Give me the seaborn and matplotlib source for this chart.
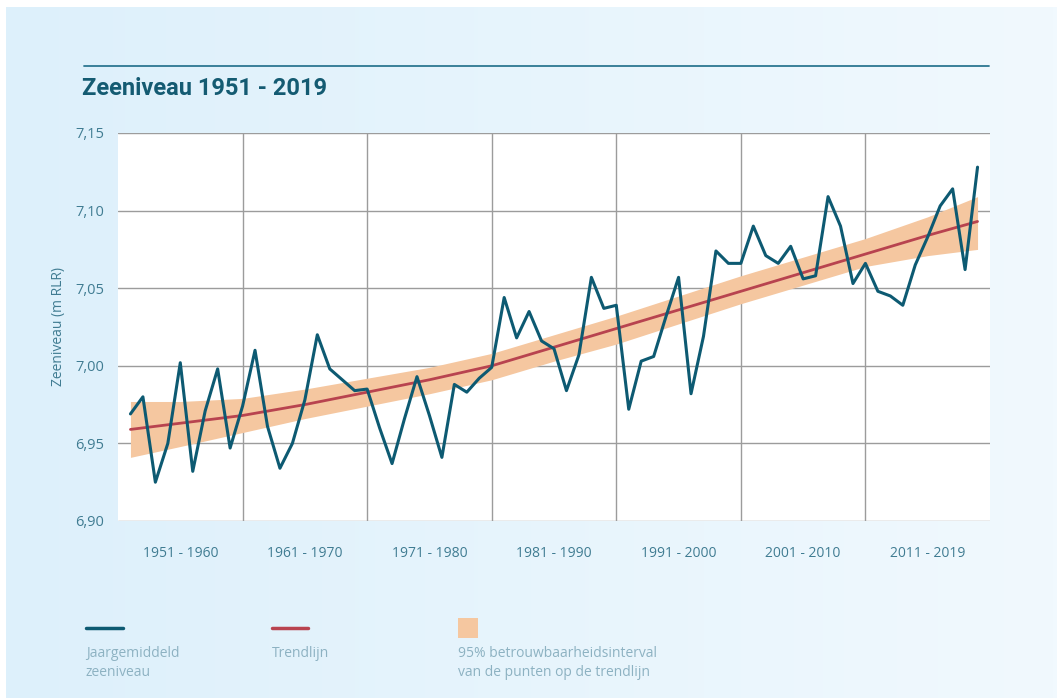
import matplotlib
matplotlib.use('Agg')
import matplotlib.pyplot as plt
import numpy as np
import pandas as pd
import seaborn as sns
from matplotlib.colors import LinearSegmentedColormap
from matplotlib.lines import Line2D
from matplotlib.patches import Rectangle

# Jaargemiddeld zeeniveau (m RLR)
jaren = list(range(1951, 2020))
zeeniveau = [
    6.969, 6.980, 6.925, 6.950, 7.002, 6.932, 6.971, 6.998, 6.947, 6.974,
    7.010, 6.961, 6.934, 6.950, 6.978, 7.020, 6.998, 6.991, 6.984, 6.985,
    6.960, 6.937, 6.966, 6.993, 6.968, 6.941, 6.988, 6.983, 6.992, 6.999,
    7.044, 7.018, 7.035, 7.016, 7.011, 6.984, 7.007, 7.057, 7.037, 7.039,
    6.972, 7.003, 7.006, 7.032, 7.057, 6.982, 7.019, 7.074, 7.066, 7.066,
    7.090, 7.071, 7.066, 7.077, 7.056, 7.058, 7.109, 7.090, 7.053, 7.066,
    7.048, 7.045, 7.039, 7.065, 7.083, 7.103, 7.114, 7.062, 7.128,
]

# Trendlijn en 95% betrouwbaarheidsinterval
trend_jaren = [1951, 1955, 1960, 1965, 1970, 1975, 1980, 1985, 1990, 1995,
               2000, 2005, 2010, 2015, 2019]
trend = [6.959, 6.963, 6.968, 6.975, 6.983, 6.991, 7.000, 7.012, 7.024,
         7.036, 7.048, 7.060, 7.072, 7.084, 7.093]
trend_boven = [6.977, 6.977, 6.979, 6.985, 6.992, 6.999, 7.008, 7.020,
               7.032, 7.045, 7.058, 7.070, 7.082, 7.096, 7.109]
trend_onder = [6.941, 6.948, 6.957, 6.966, 6.974, 6.982, 6.991, 7.003,
               7.014, 7.027, 7.040, 7.052, 7.064, 7.071, 7.075]

decennia = ['1951 - 1960', '1961 - 1970', '1971 - 1980', '1981 - 1990',
            '1991 - 2000', '2001 - 2010', '2011 - 2019']
grenzen = [1950, 1960, 1970, 1980, 1990, 2000, 2010, 2020]
y_ticks = [6.90, 6.95, 7.00, 7.05, 7.10, 7.15]

# kleuren
donker = '#0d5a72'
rood = '#b8434f'
band = '#f5c7a0'
titel_kleur = '#145b72'
tekst = '#407c92'
legenda_tekst = '#8db2c2'
grid = '#9c9c9c'

sns.set_style('white')
plt.rcParams['font.family'] = ['Open Sans', 'DejaVu Sans']

df = pd.DataFrame({'jaar': jaren, 'niveau': zeeniveau})
df_trend = pd.DataFrame({'jaar': trend_jaren, 'trend': trend,
                         'boven': trend_boven, 'onder': trend_onder})

fig = plt.figure(figsize=(10.57, 6.98), dpi=100, facecolor='white')

# achtergrond met licht verloop
bg = fig.add_axes([6 / 1057, 0, 1 - 6 / 1057, 1 - 7 / 698], zorder=0)
cmap = LinearSegmentedColormap.from_list('bg', ['#ddf0fb', '#f1f9fe'])
bg.imshow(np.linspace(0, 1, 256).reshape(1, -1), aspect='auto', cmap=cmap,
          extent=[0, 1, 0, 1])
bg.set_axis_off()

ax = fig.add_axes([118 / 1057, 1 - 521 / 698, 872 / 1057, 388 / 698], zorder=1)
ax.set_facecolor('white')

ax.fill_between(df_trend['jaar'], df_trend['onder'], df_trend['boven'],
                color=band, lw=0, zorder=2)
sns.lineplot(x='jaar', y='trend', data=df_trend, color=rood, lw=2.0,
             ax=ax, zorder=3)
sns.lineplot(x='jaar', y='niveau', data=df, color=donker, lw=2.2,
             ax=ax, zorder=4)

ax.set_xlim(grenzen[0], grenzen[-1])
ax.set_ylim(y_ticks[0], y_ticks[-1])

# y-as
ax.set_yticks(y_ticks)
ax.set_yticklabels([f'{v:.2f}'.replace('.', ',') for v in y_ticks],
                   fontsize=10.5, color=tekst)
ax.tick_params(axis='y', length=0, pad=10)
ax.set_ylabel('Zeeniveau (m RLR)', fontsize=10, color=tekst)
ax.yaxis.set_label_coords(-0.06, 0.5)

# x-as: decennia met scheidingslijnen
midden = [(a + b) / 2 for a, b in zip(grenzen[:-1], grenzen[1:])]
ax.set_xticks(grenzen[1:-1])
ax.set_xticklabels([])
ax.tick_params(axis='x', which='major', length=32, width=1, color='#a8a8a8',
               direction='out')
ax.set_xticks(midden, minor=True)
ax.set_xticklabels(decennia, minor=True, fontsize=10, color=tekst)
ax.tick_params(axis='x', which='minor', length=0, pad=18)
ax.set_xlabel('')

ax.grid(True, which='major', color=grid, lw=1)
ax.grid(False, which='minor')
for s in ax.spines.values():
    s.set_visible(False)

# titel met lijn erboven
fig.add_artist(Line2D([84 / 1057, 989 / 1057], [1 - 66 / 698, 1 - 66 / 698],
                      color='#2c7791', lw=1.3))
fig.text(82 / 1057, 1 - 95 / 698, 'Zeeniveau 1951 - 2019', fontsize=17,
         fontweight='bold', color=titel_kleur, family=['Roboto', 'DejaVu Sans'],
         va='baseline')

# legenda
ly = 1 - 628 / 698
fig.add_artist(Line2D([86 / 1057, 123 / 1057], [ly, ly], color=donker, lw=2.5))
fig.add_artist(Line2D([272 / 1057, 308 / 1057], [ly, ly], color=rood, lw=2.5))
fig.add_artist(Rectangle((458 / 1057, 1 - 638 / 698), 20 / 1057, 20 / 698,
                         color=band, lw=0, transform=fig.transFigure))
labels = [(86, 'Jaargemiddeld\nzeeniveau'), (272, 'Trendlijn'),
          (458, '95% betrouwbaarheidsinterval\nvan de punten op de trendlijn')]
for x, lab in labels:
    fig.text(x / 1057, 1 - 646 / 698, lab, fontsize=10, color=legenda_tekst,
             va='top', ha='left', linespacing=1.35)

fig.savefig('out.png', dpi=100, facecolor=fig.get_facecolor())
